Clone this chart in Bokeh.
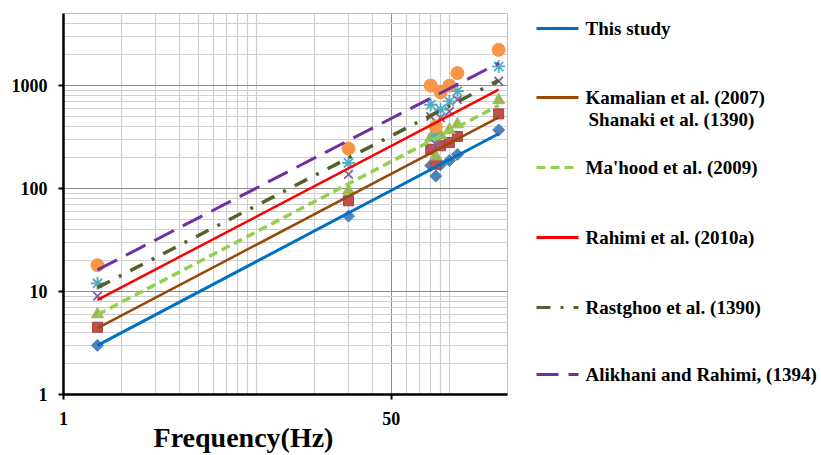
import math
from bokeh.plotting import figure
from bokeh.models import Range1d, FixedTicker, PrintfTickFormatter
from bokeh.layouts import row
from bokeh.embed import file_html
from bokeh.resources import INLINE
from bokeh.core.properties import value

# ---------------- data ----------------
freq = [1.5, 30, 80, 85, 90, 100, 110, 180]
this_study = [3.0, 54, 167, 132, 170, 187, 214, 370]
kamalian = [4.5, 76, 240, 172, 260, 280, 320, 530]
mahood = [6.0, 95, 310, 205, 330, 370, 420, 720]
rahimi = [9.0, 137, 500, 270, 485, 560, 730, 1100]
rastghoo = [12, 177, 650, 325, 585, 700, 880, 1530]
alikhani = [18, 244, 1000, 400, 860, 1000, 1320, 2220]

series_names = ["This study", "Kamalian et al. (2007)", "Ma'hood et al. (2009)",
                "Rahimi et al. (2010a)", "Rastghoo et al. (1390)", "Alikhani and Rahimi, (1394)"]
second_line = "Shanaki et al. (1390)"
x_title = "Frequency(Hz)"

trend_x = [1.5, 180]
trend_start = [3.0, 4.4, 5.95, 8.3, 10.9, 16.2]
trend_end = [340, 490, 640, 910, 1120, 1650]

x_ticks = [1, 50]
x_minor = [2, 3, 4, 5, 6, 7, 8, 9, 10, 20, 30, 40, 60, 70, 80, 90, 100]
y_ticks = [1, 10, 100, 1000]
y_minor = [m * d for d in (1, 10, 100) for m in range(2, 10)] + [2000, 3000, 4000]

# ---------------- styles ----------------
FONT = "Liberation Serif"
marker_styles = [
    dict(marker="square", angle=math.pi / 4, size=8.5, fill_color="#4F81BD", line_color="#4F81BD"),
    dict(marker="square", size=10, fill_color="#C0504D", line_color="#A7413E"),
    dict(marker="triangle", size=12, fill_color="#9BBB59", line_color="#9BBB59"),
    dict(marker="x", size=12, fill_color=None, line_color="#8064A2", line_width=1.8),
    dict(marker="asterisk", size=13, fill_color=None, line_color="#4BACC6", line_width=1.8),
    dict(marker="circle", size=13, fill_color="#F79646", line_color="#F79646"),
]
trend_styles = [
    dict(line_color="#0070C0", line_width=3, line_dash="solid"),
    dict(line_color="#984807", line_width=2.5, line_dash="solid"),
    dict(line_color="#92D050", line_width=3.5, line_dash="9 5"),
    dict(line_color="#FF0000", line_width=2.5, line_dash="solid"),
    dict(line_color="#4F6228", line_width=3.5, line_dash="14 10 3 10"),
    dict(line_color="#7030A0", line_width=3, line_dash="22 10"),
]

p = figure(width=520, height=455, x_axis_type="log", y_axis_type="log",
           x_range=Range1d(1, 200), y_range=Range1d(1, 5000),
           output_backend="svg", toolbar_location=None,
           min_border_left=63, min_border_right=13, min_border_top=13, min_border_bottom=61)
p.background_fill_color = "white"
p.border_fill_color = "white"
p.outline_line_color = "#BFBFBF"
p.outline_line_width = 1

xt = FixedTicker(ticks=x_ticks, minor_ticks=x_minor)
yt = FixedTicker(ticks=y_ticks, minor_ticks=y_minor)
p.xaxis.ticker = xt
p.yaxis.ticker = yt
p.xgrid.ticker = xt
p.ygrid.ticker = yt
for g in (p.xgrid, p.ygrid):
    g.grid_line_color = "#8C8C8C"
    g.grid_line_width = 1
    g.minor_grid_line_color = "#CFCFCF"
    g.minor_grid_line_width = 1.2

for ax in (p.xaxis, p.yaxis):
    ax.formatter = PrintfTickFormatter(format="%d")
    ax.axis_line_color = "black"
    ax.axis_line_width = 2.5
    ax.major_tick_line_color = "black"
    ax.major_tick_line_width = 2
    ax.major_tick_out = 5
    ax.major_tick_in = 0
    ax.minor_tick_line_color = None
    ax.major_label_text_font = FONT
    ax.major_label_text_font_style = "bold"
    ax.major_label_text_font_size = "18px"
    ax.major_label_text_color = "black"
p.xaxis.major_label_standoff = 12
p.yaxis.major_label_standoff = 11

# axis title: trailing no-break spaces move its visible part left, as in the reference
p.xaxis.axis_label = x_title + "\u00a0" * 12
p.xaxis.axis_label_standoff = -6
p.xaxis.axis_label_text_font = FONT
p.xaxis.axis_label_text_font_style = "bold"
p.xaxis.axis_label_text_font_size = "28px"
p.xaxis.axis_label_text_color = "black"

all_series = [this_study, kamalian, mahood, rahimi, rastghoo, alikhani]
for ys, ms in zip(all_series, marker_styles):
    p.scatter(freq, ys, **ms)

for s, e, ts in zip(trend_start, trend_end, trend_styles):
    p.line(trend_x, [s, e], **ts)

# ---------------- legend panel (frame aligned with main frame: 13..394 px) ----------------
leg = figure(width=301, height=455, x_range=Range1d(520, 821), y_range=Range1d(394, 13),
             output_backend="svg", toolbar_location=None, min_border=0,
             x_axis_location=None, y_axis_location=None)
leg.grid.visible = False
leg.outline_line_color = None
leg_y = [28, 97, 167, 237, 307, 374]
for yy, ts in zip(leg_y, trend_styles):
    st = dict(ts)
    st["line_width"] = 3
    leg.line([536, 578], [yy, yy], **st)
leg.text(x=[585] * len(series_names), y=leg_y, text=series_names,
         text_font=value(FONT), text_font_style="bold", text_font_size="19px",
         text_baseline="middle", text_color="black")
leg.text(x=[588], y=[119], text=[second_line],
         text_font=value(FONT), text_font_style="bold", text_font_size="19px",
         text_baseline="middle", text_color="black")

layout = row(p, leg)
open("out.html", "w").write(file_html(layout, INLINE))
